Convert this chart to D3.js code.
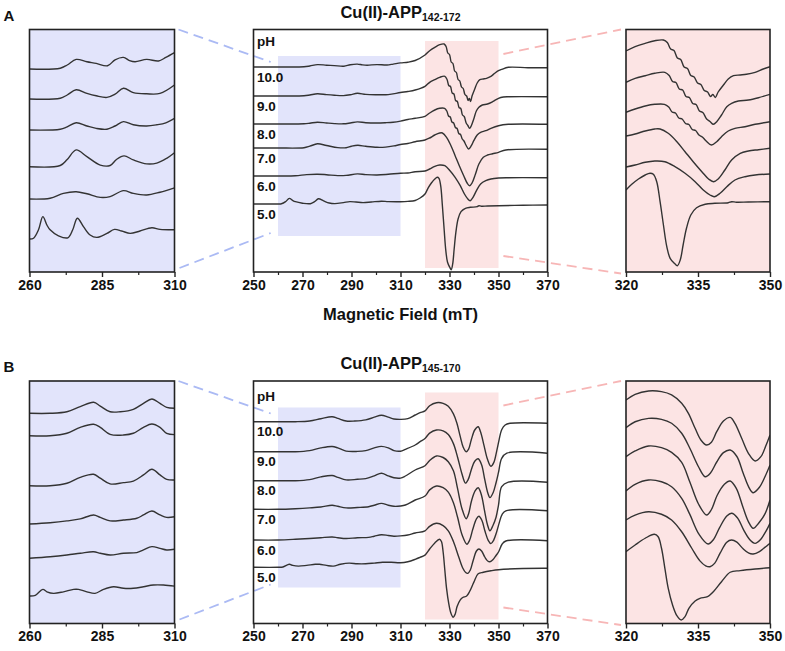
<!DOCTYPE html>
<html>
<head>
<meta charset="utf-8">
<script src="https://cdn.jsdelivr.net/npm/d3@7"></script>
<style>
  html, body { margin: 0; padding: 0; background: #fff; }
  svg text { font-family: Arial, "Liberation Sans", sans-serif; font-weight: bold; fill: #111; }
</style>
</head>
<body>
<div id="chart"></div>
<script>
const width = 785;
const height = 651;

// ---- data ----
const panelLetters = ["A", "B"];
const peptideRanges = ["142-172", "145-170"];
const phLabels = ["10.0", "9.0", "8.0", "7.0", "6.0", "5.0"];

const midTicks = [250, 270, 290, 310, 330, 350, 370];
const midMinor = [260, 280, 300, 320, 340, 360];
const lowTicks = [260, 285, 310];
const lowMinor = [272.5, 297.5];
const highTicks = [320, 335, 350];
const highMinor = [327.5, 342.5];

// [field (mT), intensity (a.u.)]
const specA100 = [[250,0],[260,0],[270.6,0.2],[273,1],[276.1,2.4],[279.8,1.8],[283,1.4],[286.9,0.8],[289.5,2.3],[292.4,2.9],[294.5,2.1],[296.4,1.8],[300.4,2.4],[304.5,2],[307,2.9],[310,4.1],[313,4.8],[316,6.5],[320,12],[321.9,16.3],[324,19.7],[326,22.3],[327.8,23],[328.6,20.5],[329.3,14],[330,12.5],[330.7,5],[331.4,3.5],[332.1,-4],[332.8,-5.5],[333.5,-12.5],[334.2,-14],[334.9,-20],[335.6,-21.5],[336.3,-27.5],[337,-29],[337.6,-33.5],[338.1,-31.5],[338.6,-34.5],[339.2,-29],[340.3,-22],[341.3,-16],[342.4,-12.7],[343.8,-12],[345.1,-11.3],[346.9,-9.3],[348.6,-6],[350,-3.7],[351.4,-2.3],[354,-0.3],[362,-0.7],[370,-0.7]];
const specA90 = [[250,0],[260,0],[270.6,0.2],[273,1],[276.1,2.3],[279.8,1.4],[283,0.8],[286.7,0.4],[289.5,1.2],[292.4,2.7],[295.8,1.6],[300.4,1.3],[305,1.4],[310,3.5],[313,4.5],[316,6],[320,9.7],[321.9,13.7],[324,16.3],[326,18.7],[328.1,19.7],[329,16.5],[329.7,10.5],[330.4,9.5],[331.1,3],[331.8,2],[332.5,-4.5],[333.2,-5.5],[333.9,-11.5],[334.6,-12.5],[335.3,-19],[336,-20.5],[336.8,-27],[337.5,-29.5],[338.2,-32.3],[338.9,-29.7],[339.9,-23],[341,-14.7],[342,-11.3],[343.4,-9],[345.5,-8],[347.6,-5.7],[350,-2.3],[352,-1],[354,-0.7],[370,-0.7]];
const specA80 = [[250,0],[260,0],[270.6,0.2],[273,0.8],[276.1,1.8],[279.8,1],[283,0.4],[286.7,0.2],[289.5,1],[292.4,2.1],[295.8,1.3],[300.4,1],[303.9,1.3],[307,1.8],[310,2.9],[313,4.5],[316,5.7],[320,7.7],[321.9,11],[324,14],[326,15.7],[328,15.7],[328.9,13],[329.6,8],[330.3,7],[331,2],[331.7,1],[332.4,-3.5],[333.1,-4.5],[333.8,-9.5],[334.5,-10.5],[335.2,-15],[335.9,-17],[336.7,-21],[337.8,-25],[338.9,-21.7],[339.9,-16.7],[341.3,-11],[342.7,-8.3],[344.8,-6.7],[346.9,-4.3],[350,-1.7],[354,-0.3],[370,-0.3]];
const specA70 = [[250,0],[260,0],[270.6,0.3],[273,1.8],[276.1,4.2],[279.8,2.5],[284.4,0.4],[287.8,0.3],[290,1.8],[292.6,2.7],[295.8,1.7],[300.4,0.7],[303.9,0.9],[307.3,2.1],[310,3.5],[313,4.5],[316,6.3],[320,8],[321.9,10],[324,13],[326,15],[327.1,15],[328.8,10.7],[330.6,2.3],[332.3,-7.7],[334,-17.7],[335.8,-27.7],[337.2,-35],[338.2,-37.7],[339.2,-35],[340.6,-26],[342,-16],[343.8,-9.3],[345.5,-7],[347.6,-5.7],[350,-4.3],[353,-2],[370,-1.3]];
const specA60 = [[250,0],[260,0],[267.1,0.2],[271.7,1.4],[276.1,1.8],[279.8,1.3],[284.4,0.4],[287.8,0.6],[292.4,2.1],[295.8,1.4],[300.4,1],[305,1.7],[310,2.8],[313,3],[316,4.3],[320,5],[321.9,7],[324,9.7],[326,11],[328.1,10.3],[330.2,5.3],[332.3,-1.3],[334.4,-9.7],[336.1,-18],[337.5,-23],[338.4,-24.7],[339.6,-21.3],[341,-14.7],[342.7,-8],[344.8,-4.7],[346.9,-3],[350,-2],[354,-1.7],[370,-1.7]];
const specA50 = [[250,0],[260,0],[261.4,0.2],[263.1,2.3],[264.6,5.6],[266,3.5],[267.1,2.3],[270,0.8],[273.2,0.3],[274.9,2.3],[276.5,5.2],[278.6,3.1],[280.9,1],[283.2,0.4],[286.7,1.4],[289.3,2.4],[291.8,2],[294.7,1.4],[298.1,2],[302.2,2.8],[305,2.4],[310,2.3],[313,2.6],[316,3.5],[318,6],[320,10],[321.2,15.7],[322.6,21],[324,25],[325,26.7],[325.7,25.7],[326.4,18.3],[327.1,-1.7],[327.8,-25],[328.5,-46.7],[329.2,-58.3],[330.1,-63.3],[330.7,-65.7],[331.3,-60],[331.9,-45],[332.6,-28.3],[333.5,-15],[334.7,-7.7],[336.5,-4.3],[338.5,-3.3],[341.3,-2.7],[342,-1.7],[343,-2.2],[345.5,-2],[350,-1.7],[360,-1.2],[370,-1]];

const specB100 = [[250,0],[260,0],[267.1,0],[272.9,0.7],[277.5,3],[282.1,5],[284.4,3.3],[287.8,0.7],[291.3,0.7],[295.8,1.8],[299.3,4.5],[302.2,6.5],[305,4.5],[307.3,2.7],[310,2.3],[313,3],[316,6.7],[318,9],[320,10.8],[321.9,16],[324.7,19],[327.4,18.4],[329.5,15.4],[331.6,7.8],[333,-1.3],[334.4,-14.9],[335.6,-25.5],[336.8,-30.1],[337.8,-27.5],[338.9,-18],[340.3,-8.3],[341.7,-5],[342.7,-10.4],[344.1,-24],[345.5,-37.6],[346.9,-44.6],[348.1,-40.7],[349.2,-30.1],[350,-21],[351.3,-8],[352.7,-3.3],[354.7,-1.6],[370,-1.5]];
const specB90 = [[250,0],[260,0],[267.1,0],[272.9,1.1],[277.5,3.8],[282.1,5.2],[284.4,3.8],[287.8,0.6],[292.4,0.3],[295.8,1.1],[299.3,3.8],[302.2,5.3],[305,3.8],[307.3,1.1],[310,0.5],[312,2.4],[316,6.7],[318,10],[320,13.2],[321.9,18.6],[324.7,21.7],[327.4,20.8],[329.5,17.2],[331.6,8.1],[333.3,-5.5],[335.1,-22.3],[336.5,-31.4],[337.6,-28],[338.9,-18],[340.3,-9.5],[341.7,-7.1],[343.1,-13],[344.4,-28],[345.6,-41],[346.5,-45.9],[347.8,-41],[349,-31],[350,-20.7],[351.3,-6.6],[353.4,-1.5],[370,-1.5]];
const specB80 = [[250,0],[260,0],[267.1,0],[272.9,1.1],[277.5,3.8],[282.1,5.2],[284.4,3.4],[287.8,0.8],[292.4,1.4],[295.8,2.1],[299.3,4.9],[302.2,7.5],[305,4.9],[307.3,2.9],[310,2.6],[312,4.7],[316,10.7],[320,15],[321.9,20.2],[324.7,24.7],[327.4,23.2],[329.5,19],[331.6,9.9],[333.3,-8],[335.1,-28],[336.8,-38],[337.8,-33],[339,-20],[340.5,-10],[341.7,-7.1],[343,-14],[344.3,-30],[345.5,-44],[346.5,-50.1],[347.7,-45],[349,-36.5],[350,-24.4],[351.3,-6],[354,-1.5],[370,-1.5]];
const specB70 = [[250,0],[260,0],[267.1,0.6],[272.9,1.4],[277.5,2.3],[282.1,4.1],[284.4,3],[287.8,1.4],[292.4,1.8],[297,2.6],[299.3,4.1],[302.2,5.9],[305,4.1],[307.3,3],[310,3.3],[312,4.3],[316,9.3],[320,13.3],[321.9,19.4],[324.7,23.3],[327.4,21.7],[329.5,17.2],[331.6,6.6],[333.3,-8],[335.2,-26],[337.1,-34.9],[338.2,-31],[339.5,-20],[341,-9.5],[342,-7],[343.2,-11],[344.5,-22],[345.8,-31],[346.9,-34.3],[348,-31],[349.2,-23],[350,-16.1],[351.5,-5],[353,-1.5],[370,-1.4]];
const specB60 = [[250,0],[260,0],[267.1,0.7],[272.9,1.5],[277.5,2.3],[282.1,3],[284.4,2.3],[287.8,1.5],[292.4,2.3],[297,2.6],[299.3,3.8],[302.2,5.3],[305,4.5],[307.3,3.8],[310,4.1],[313,5],[316,7],[320,9.2],[321.9,13.7],[324.7,16.7],[327.4,14.4],[329.5,9.2],[331.6,-1.5],[333.7,-16.5],[335.4,-28],[336.6,-32.5],[337.5,-33.3],[338.5,-30],[339.6,-21],[341,-11],[342,-9],[343.1,-11],[344.4,-17],[345.6,-21],[346.5,-21.7],[347.8,-19.5],[349,-15.5],[350,-12],[351.5,-4],[353,-1],[370,-0.7]];
const specB50 = [[250,0],[260,0],[262,0.3],[264.6,3],[266,1.9],[268.3,1.2],[271.7,1.9],[275.2,3],[276.9,3],[279.8,1.9],[282.6,1.2],[285.5,3],[289,4.2],[292.4,3.5],[295.8,3.5],[299.3,4.2],[302.7,5],[306.2,5],[310,4.5],[313,5.6],[316,8],[318,10],[320,12.2],[321.9,18.3],[324,24.4],[325.9,28],[326.7,25.8],[327.4,15.3],[328.1,-2.9],[328.8,-21.1],[329.7,-36.3],[330.6,-46],[331.5,-49.9],[332.3,-46.9],[333.1,-39.3],[334.4,-32.6],[335.4,-30.2],[337,-28.7],[338.2,-24.2],[339.9,-15.1],[341.7,-6.5],[343.8,-5],[346.9,-3.5],[350,-2.4],[360,-1.2],[370,-1]];

const spectraA = [specA100, specA90, specA80, specA70, specA60, specA50];
const spectraB = [specB100, specB90, specB80, specB70, specB60, specB50];

// vertical stacking offsets (a.u.) for the full view and the two zoom insets
const midOffsetA = [205, 176, 148, 124, 96, 68];
const lowOffsetA = [203, 173, 142, 105.3, 73, 33];
const highOffsetA = [209, 180, 152, 128, 100, 72];
const midOffsetB = [201.8, 171.8, 142.8, 114.2, 83.5, 56.2];
const lowOffsetB = [210.2, 187.8, 137.8, 99.5, 65.2, 27.5];
const highOffsetB = [211.6, 181.3, 150.3, 117.9, 93.4, 58.4];
const lowGain = [4, 2.2];
const highGain = [1, 1.1];

const lowBand = [260, 310];
const highBand = [320, 350];

// ---- layout ----
const plotH = 242.5;
const rowTops = [29.5, 381];
const blueFill = "#e2e4fb";
const pinkFill = "#fce4e4";
const blueDash = "#abbaf4";
const pinkDash = "#f7b6b6";
const lineColor = "#333";

const lowX = d3.scaleLinear().domain(lowBand).range([29.5, 174.5]);
const midX = d3.scaleLinear().domain([250, 370]).range([253.5, 547.5]);
const highX = d3.scaleLinear().domain(highBand).range([626, 770]);
const y = d3.scaleLinear().domain([0, plotH]).range([plotH, 0]);

const svg = d3.select("#chart")
  .append("svg")
  .attr("width", width)
  .attr("height", height);

const defs = svg.append("defs");

function drawAxis(g, scale, major, minor) {
  const ax = g.append("g").attr("transform", `translate(0,${plotH})`);
  ax.call(d3.axisBottom(scale).tickValues(major).tickSize(5).tickPadding(3).tickFormat(d3.format("d")))
    .call(s => s.select(".domain").remove())
    .call(s => s.selectAll(".tick line").attr("stroke", "#222").attr("stroke-width", 1.4))
    .call(s => s.selectAll(".tick text").attr("font-size", 14).attr("fill", "#111")
      .style("font-family", "Arial, 'Liberation Sans', sans-serif").style("font-weight", "bold"));
  ax.append("g")
    .call(d3.axisBottom(scale).tickValues(minor).tickSize(3).tickFormat(""))
    .call(s => s.select(".domain").remove())
    .call(s => s.selectAll(".tick line").attr("stroke", "#222").attr("stroke-width", 1.2));
}

function frame(g, scale) {
  g.append("rect")
    .attr("x", scale.range()[0]).attr("y", 0)
    .attr("width", scale.range()[1] - scale.range()[0]).attr("height", plotH)
    .attr("fill", "none").attr("stroke", "#222").attr("stroke-width", 1.6);
}

function drawSpectra(g, spectra, xs, offsets, gain, clipId) {
  const [lo, hi] = xs.domain();
  g.append("g")
    .attr("clip-path", clipId ? `url(#${clipId})` : null)
    .selectAll("path")
    .data(spectra)
    .join("path")
    .attr("fill", "none")
    .attr("stroke", lineColor)
    .attr("stroke-width", 1.4)
    .attr("stroke-linejoin", "round")
    .attr("d", (s, i) => d3.line()
      .x(d => xs(d[0]))
      .y(d => y(offsets[i] + gain * d[1]))
      .curve(d3.curveCatmullRom.alpha(0.5))(s.filter(d => d[0] >= lo && d[0] <= hi)));
}

function dashed(g, x1, y1, x2, y2, color) {
  g.append("line")
    .attr("x1", x1).attr("y1", y1).attr("x2", x2).attr("y2", y2)
    .attr("stroke", color).attr("stroke-width", 1.8)
    .attr("stroke-dasharray", "10,6");
}

rowTops.forEach((top, r) => {
  const spectra = r === 0 ? spectraA : spectraB;
  const midOff = r === 0 ? midOffsetA : midOffsetB;
  const lowOff = r === 0 ? lowOffsetA : lowOffsetB;
  const highOff = r === 0 ? highOffsetA : highOffsetB;

  const g = svg.append("g").attr("transform", `translate(0,${top})`);

  ["low", "high"].forEach(k => {
    const xs = k === "low" ? lowX : highX;
    defs.append("clipPath").attr("id", `clip-${k}-${r}`)
      .append("rect")
      .attr("x", xs.range()[0]).attr("y", 0)
      .attr("width", xs.range()[1] - xs.range()[0]).attr("height", plotH);
  });

  // low-field inset
  g.append("rect")
    .attr("x", lowX.range()[0]).attr("y", 0)
    .attr("width", lowX.range()[1] - lowX.range()[0]).attr("height", plotH)
    .attr("fill", blueFill);
  drawSpectra(g, spectra, lowX, lowOff, lowGain[r], `clip-low-${r}`);
  frame(g, lowX);
  drawAxis(g, lowX, lowTicks, lowMinor);

  // full spectrum
  g.append("rect")
    .attr("x", midX(lowBand[0])).attr("y", y(216))
    .attr("width", midX(lowBand[1]) - midX(lowBand[0])).attr("height", y(36) - y(216))
    .attr("fill", blueFill);
  g.append("rect")
    .attr("x", midX(highBand[0])).attr("y", y(231))
    .attr("width", midX(highBand[1]) - midX(highBand[0])).attr("height", y(4) - y(231))
    .attr("fill", pinkFill);

  // zoom connectors
  dashed(g, lowX(310) + 4, 0, midX(257), 32.5, blueDash);
  dashed(g, lowX(310) + 5, plotH - 4, midX(257), plotH - 39, blueDash);
  dashed(g, midX(352), 24.5, highX(320) - 5, 0, pinkDash);
  dashed(g, midX(352), 226.5, highX(320) - 5, plotH + 1.5, pinkDash);

  drawSpectra(g, spectra, midX, midOff, 1, null);

  g.append("text")
    .attr("x", midX(250) + 3.5).attr("y", y(midOff[0]) - 21)
    .attr("font-size", 13.5).text("pH");
  g.selectAll("text.ph")
    .data(phLabels)
    .join("text")
    .attr("class", "ph")
    .attr("x", midX(250) + 3.5)
    .attr("y", (d, i) => y(midOff[i]) + 14.5)
    .attr("font-size", 13.5)
    .text(d => d);

  frame(g, midX);
  drawAxis(g, midX, midTicks, midMinor);

  // high-field inset
  g.append("rect")
    .attr("x", highX.range()[0]).attr("y", 0)
    .attr("width", highX.range()[1] - highX.range()[0]).attr("height", plotH)
    .attr("fill", pinkFill);
  drawSpectra(g, spectra, highX, highOff, highGain[r], `clip-high-${r}`);
  frame(g, highX);
  drawAxis(g, highX, highTicks, highMinor);

  // titles
  const title = g.append("text")
    .attr("x", (midX.range()[0] + midX.range()[1]) / 2)
    .attr("y", -12)
    .attr("text-anchor", "middle")
    .attr("font-size", 16.5);
  title.append("tspan").text("Cu(II)-APP");
  title.append("tspan").attr("font-size", 10.5).attr("dy", 3).text(peptideRanges[r]);

  g.append("text")
    .attr("x", 3.5).attr("y", -9)
    .attr("font-size", 15)
    .text(panelLetters[r]);

  if (r === 0) {
    g.append("text")
      .attr("x", (midX.range()[0] + midX.range()[1]) / 2)
      .attr("y", plotH + 47.5)
      .attr("text-anchor", "middle")
      .attr("font-size", 16.5)
      .text("Magnetic Field (mT)");
  }
});
</script>
</body>
</html>
